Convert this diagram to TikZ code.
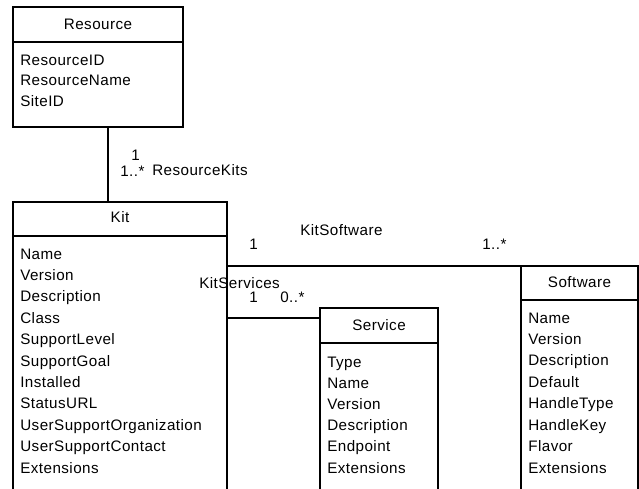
\documentclass[tikz,border=0pt]{standalone}
\usepackage{fontspec}
\setmainfont{Liberation Sans}[LetterSpace=3]
\begin{document}
\begin{tikzpicture}[x=0.75pt,y=-0.75pt,
  every node/.style={font=\fontsize{11.4}{13}\selectfont, inner sep=0pt},
  umlline/.style={line width=1.1pt},
  umlbox/.style={draw, umlline, rectangle, anchor=north west, outer sep=0pt},
  classtitle/.style={anchor=base},
  attr/.style={anchor=base west},
  lbl/.style={anchor=base west}]
\useasboundingbox (0,0) rectangle (639,489);
\clip (0,0) rectangle (639,489);

% class boxes (the lower parts run past the page edge)
\node[umlbox, minimum width={170*0.75pt}, minimum height={120*0.75pt}] (res) at (13,7) {};
\node[umlbox, minimum width={214*0.75pt}, minimum height={320*0.75pt}] (kit) at (13,202) {};
\node[umlbox, minimum width={118*0.75pt}, minimum height={220*0.75pt}] (svc) at (320,308) {};
\node[umlbox, minimum width={117*0.75pt}, minimum height={260*0.75pt}] (soft) at (521,266) {};

% header separators
\draw[umlline] (res.west |- 0,42) -- (res.east |- 0,42);
\draw[umlline] (kit.west |- 0,236) -- (kit.east |- 0,236);
\draw[umlline] (svc.west |- 0,343) -- (svc.east |- 0,343);
\draw[umlline] (soft.west |- 0,300) -- (soft.east |- 0,300);

% class names
\node[classtitle] (res-t) at (98,29) {Resource};
\node[classtitle] (kit-t) at (120,222) {Kit};
\node[classtitle] (svc-t) at (379,330) {Service};
\node[classtitle] (soft-t) at (579.5,287) {Software};

% attributes
\foreach \t [count=\i from 0] in {ResourceID,ResourceName,SiteID}
  \node[attr] (res-a\i) at (20,{65+20.5*\i}) {\t};
\foreach \t [count=\i from 0] in {Name,Version,Description,Class,SupportLevel,SupportGoal,Installed,StatusURL,UserSupportOrganization,UserSupportContact,Extensions}
  \node[attr] (kit-a\i) at (20,{259+21.4*\i}) {\t};
\foreach \t [count=\i from 0] in {Type,Name,Version,Description,Endpoint,Extensions}
  \node[attr] (svc-a\i) at (327,{367+21.2*\i}) {\t};
\foreach \t [count=\i from 0] in {Name,Version,Description,Default,HandleType,HandleKey,Flavor,Extensions}
  \node[attr] (soft-a\i) at (528,{323+21.43*\i}) {\t};

% associations
\draw[umlline] (res.south -| 108,0) -- (kit.north -| 108,0);
\draw[umlline] (kit.east |- soft.north) -- (soft.north west);
\draw[umlline] (kit.east |- 0,318) -- (svc.west |- 0,318);

% association labels
\node[lbl] (rk-m1) at (131,160) {1};
\node[lbl] (rk-m2) at (120,176) {1..*};
\node[lbl] (rk-n) at (152,175) {ResourceKits};
\node[lbl] (ks-n) at (300,235) {KitSoftware};
\node[lbl] (ks-m1) at (249,249) {1};
\node[lbl] (ks-m2) at (482,249) {1..*};
\node[lbl] (kv-n) at (199,288) {KitServices};
\node[lbl] (kv-m1) at (249,302) {1};
\node[lbl] (kv-m2) at (280,302) {0..*};
\end{tikzpicture}
\end{document}
